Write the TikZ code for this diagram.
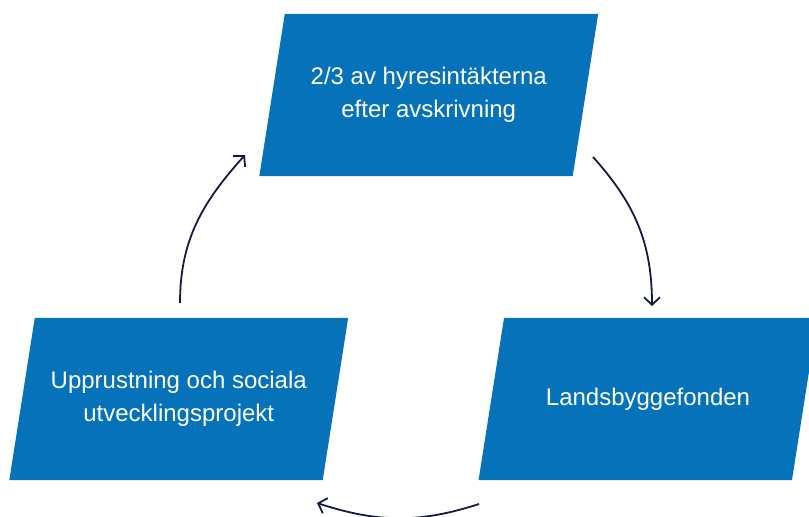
\documentclass[tikz,border=0pt]{standalone}
\usepackage{fontspec}
\setmainfont{Liberation Sans}
\usetikzlibrary{arrows.meta,backgrounds}
\definecolor{boxblue}{RGB}{5,114,186}
\definecolor{arrownavy}{RGB}{22,26,66}
\begin{document}
\begin{tikzpicture}[x=1pt,y=1pt,
  box/.style={rectangle,minimum width=313pt,minimum height=162pt,inner sep=0pt,
    text=white,align=center,font=\fontsize{24}{33}\selectfont},
  flow/.style={draw=arrownavy,line width=1.8pt,-{Straight Barb[length=7.5pt,width=16pt,line width=1.8pt]}}]
\useasboundingbox (0,0) rectangle (809,517);
\clip (0,0) rectangle (809,517);
\node[box] (top) at (428.75,422) {2/3 av hyresintäkterna\\efter avskrivning};
\node[box] (left) at (178.75,118) {Upprustning och sociala\\utvecklingsprojekt};
\node[box] (right) at (648,118) {Landsbyggefonden};
\begin{scope}[on background layer]
\foreach \n in {top,left,right}{
  \fill[boxblue] ([xshift=12.75pt]\n.north west) -- ([xshift=12.75pt]\n.north east)
     -- ([xshift=-12.75pt]\n.south east) -- ([xshift=-12.75pt]\n.south west) -- cycle;
}
\end{scope}
\coordinate (ls) at (180,214);
\coordinate (le) at (245,362);
\coordinate (rs) at (593,360);
\coordinate (re) at (652,211);
\coordinate (bs) at (479,13);
\coordinate (be) at (317,14);
\draw[flow] (ls) to[out=90,in=-132] (le);
\draw[flow] (rs) to[out=-48,in=90] (re);
\draw[flow] (bs) to[out=-162,in=-18] (be);
\end{tikzpicture}
\end{document}
